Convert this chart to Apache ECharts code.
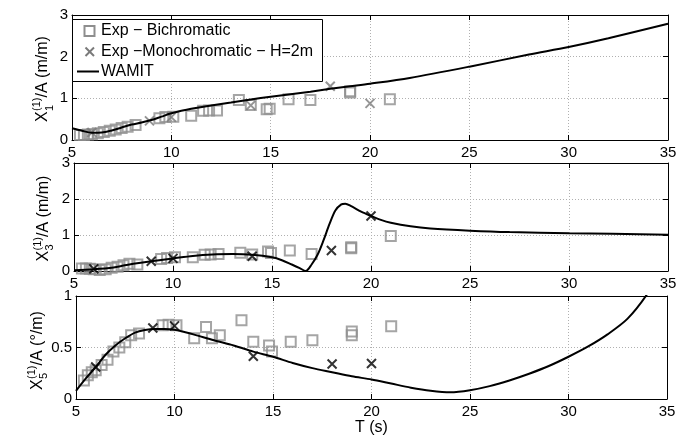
<!DOCTYPE html>
<html>
<head>
<meta charset="utf-8">
<script src="https://cdn.jsdelivr.net/npm/echarts@6/dist/echarts.min.js"></script>
<style>
  html, body { margin: 0; padding: 0; background: #fff; }
  #chart { width: 691px; height: 438px; }
</style>
</head>
<body>
<div id="chart"></div>
<script>
// Wave periods (s) of the bichromatic tests
const tBi = [5.4, 5.6, 5.8, 6.0, 6.3, 6.6, 6.9, 7.2, 7.5, 7.8, 8.2, 9.4, 9.7, 10.1, 11.0, 11.6, 11.9, 12.3, 13.4, 14.0, 14.8, 14.95, 15.9, 17.0, 19.0, 19.0, 21.0];
// Wave periods (s) of the monochromatic tests, H = 2 m
const tMono = [6, 8.9, 10, 14, 18, 20];

// Surge RAO X1/A (m/m)
const x1Bi = [0.12, 0.12, 0.13, 0.14, 0.16, 0.19, 0.22, 0.25, 0.29, 0.32, 0.36, 0.52, 0.55, 0.56, 0.58, 0.70, 0.71, 0.71, 0.96, 0.84, 0.74, 0.75, 0.98, 0.96, 1.14, 1.17, 0.98];
const x1Mono = [0.18, 0.46, 0.55, 0.83, 1.29, 0.88];
const tW1 = [5, 5.5, 6, 6.5, 7, 7.5, 8, 8.5, 9, 9.5, 10, 10.5, 11, 12, 13, 14, 15, 16, 17, 18, 19, 20, 22, 25, 28, 30, 32, 35];
const x1W = [0.28, 0.22, 0.175, 0.18, 0.23, 0.30, 0.37, 0.42, 0.48, 0.56, 0.64, 0.70, 0.75, 0.83, 0.90, 0.97, 1.04, 1.10, 1.16, 1.23, 1.29, 1.35, 1.49, 1.76, 2.05, 2.23, 2.44, 2.79];

// Heave RAO X3/A (m/m)
const x3Bi = [0.07, 0.07, 0.06, 0.05, 0.03, 0.05, 0.09, 0.12, 0.16, 0.20, 0.18, 0.33, 0.36, 0.38, 0.38, 0.45, 0.46, 0.47, 0.51, 0.46, 0.54, 0.50, 0.57, 0.47, 0.63, 0.66, 0.97];
const x3Mono = [0.06, 0.27, 0.35, 0.41, 0.57, 1.53];
const tW3 = [5, 6, 7, 7.5, 8, 9, 10, 11, 12, 13, 14, 15, 15.5, 16, 16.4, 16.7, 17, 17.3, 17.6, 17.9, 18.2, 18.5, 18.7, 19, 19.5, 20, 20.5, 21, 22, 23, 25, 27, 30, 35];
const x3W = [0.02, 0.05, 0.10, 0.15, 0.20, 0.28, 0.35, 0.42, 0.46, 0.47, 0.45, 0.38, 0.30, 0.18, 0.08, 0.0, 0.18, 0.45, 0.85, 1.30, 1.68, 1.85, 1.87, 1.80, 1.65, 1.53, 1.42, 1.34, 1.24, 1.18, 1.12, 1.08, 1.05, 1.01];

// Pitch RAO X5/A (deg/m)
const x5Bi = [0.18, 0.23, 0.26, 0.28, 0.33, 0.38, 0.46, 0.50, 0.55, 0.62, 0.635, 0.715, 0.72, 0.716, 0.59, 0.70, 0.59, 0.62, 0.765, 0.555, 0.52, 0.46, 0.555, 0.57, 0.62, 0.655, 0.706];
const x5Mono = [0.31, 0.69, 0.71, 0.415, 0.34, 0.345];
const tW5 = [5, 5.5, 6, 6.5, 7, 7.5, 8, 8.5, 9, 9.5, 10, 10.5, 11, 12, 13, 14, 15, 16, 17, 18, 19, 20, 21, 22, 23, 24, 25, 26, 27, 28, 29, 30, 31, 32, 33, 34, 35];
const x5W = [0.08, 0.20, 0.31, 0.43, 0.52, 0.59, 0.645, 0.67, 0.68, 0.68, 0.672, 0.65, 0.625, 0.57, 0.52, 0.46, 0.41, 0.35, 0.30, 0.26, 0.22, 0.19, 0.15, 0.11, 0.08, 0.065, 0.085, 0.125, 0.18, 0.245, 0.32, 0.41, 0.51, 0.63, 0.78, 1.02, 1.34];

// Axis ranges and tick spacing
const xRange = [5, 35], xStep = 5;
const yRanges = [[0, 3, 1], [0, 3, 1], [0, 1, 0.5]];

const pairs = (xs, ys) => xs.map((x, i) => [x, ys[i]]);

const FONT = 'Liberation Sans';
const grids = [
  { left: 72, top: 15, width: 596, height: 125 },
  { left: 74, top: 163, width: 594, height: 108 },
  { left: 76, top: 296, width: 591, height: 103 }
];

const xAxes = [], yAxes = [];
grids.forEach((g, i) => {
  const common = {
    type: 'value', gridIndex: i, min: xRange[0], max: xRange[1], interval: xStep,
    axisLine: { show: true, onZero: false, lineStyle: { color: '#000', width: 1 } },
    axisTick: { show: true, inside: true, length: 5, lineStyle: { color: '#000' } }
  };
  xAxes.push(Object.assign({}, common, {
    position: 'bottom',
    axisLabel: { show: true, margin: 5, color: '#000', fontSize: 15, fontFamily: FONT, showMinLabel: true, showMaxLabel: true },
    splitLine: { show: true, lineStyle: { color: '#b0b0b0', type: [1, 2], width: 1 } },
    name: i === 2 ? 'T (s)' : '',
    nameLocation: 'middle', nameGap: 20,
    nameTextStyle: { color: '#000', fontSize: 16, fontFamily: FONT }
  }));
  xAxes.push(Object.assign({}, common, {
    position: 'top', axisLabel: { show: false }, splitLine: { show: false }
  }));
  const yr = yRanges[i];
  const ycommon = {
    type: 'value', gridIndex: i, min: yr[0], max: yr[1], interval: yr[2],
    axisLine: { show: true, onZero: false, lineStyle: { color: '#000', width: 1 } },
    axisTick: { show: true, inside: true, length: 5, lineStyle: { color: '#000' } }
  };
  yAxes.push(Object.assign({}, ycommon, {
    position: 'left',
    axisLabel: { show: true, margin: 4, color: '#000', fontSize: 15, fontFamily: FONT },
    splitLine: { show: true, lineStyle: { color: '#b0b0b0', type: [1, 2], width: 1 } }
  }));
  yAxes.push(Object.assign({}, ycommon, {
    position: 'right', axisLabel: { show: false }, splitLine: { show: false }
  }));
});

const squareStyle = { color: 'rgba(0,0,0,0)', borderColor: '#8e8e8e', borderWidth: 2 };
const crossPath = 'path://M0,0L10,10M10,0L0,10';

function panelSeries(i, bi, mono, tw, w, crossColor) {
  return [
    {
      name: 'Exp − Bichromatic', type: 'scatter', xAxisIndex: i * 2, yAxisIndex: i * 2,
      data: pairs(tBi, bi), symbol: 'rect', symbolSize: 10, itemStyle: squareStyle,
      emphasis: { disabled: true }, z: 2
    },
    {
      name: 'Exp −Monochromatic − H=2m', type: 'scatter', xAxisIndex: i * 2, yAxisIndex: i * 2,
      data: pairs(tMono, mono), symbol: crossPath, symbolSize: 9,
      itemStyle: { color: 'rgba(0,0,0,0)', borderColor: crossColor, borderWidth: 2 },
      emphasis: { disabled: true }, z: 3
    },
    {
      name: 'WAMIT', type: 'line', xAxisIndex: i * 2, yAxisIndex: i * 2,
      data: pairs(tw, w), symbol: 'none', smooth: 0.3, clip: true,
      lineStyle: { color: '#000', width: 2 }, emphasis: { disabled: true }, z: 4
    }
  ];
}

const series = [].concat(
  panelSeries(0, x1Bi, x1Mono, tW1, x1W, '#7a7a7a'),
  panelSeries(1, x3Bi, x3Mono, tW3, x3W, '#000'),
  panelSeries(2, x5Bi, x5Mono, tW5, x5W, '#000')
);

// Vertical axis title X_k^(1)/A (unit), written bottom-to-top
function txt(text, x, y, size) {
  return {
    type: 'text',
    style: {
      text: text, x: x, y: y, fill: '#000', fontSize: size, fontFamily: FONT,
      textAlign: 'left', align: 'left', textVerticalAlign: 'middle', verticalAlign: 'middle'
    }
  };
}
function yTitle(x, y, sub, tail) {
  return {
    type: 'group', x: x, y: y, rotation: Math.PI / 2, z: 100,
    children: [
      txt('X', 0, 0, 16),
      txt('(1)', 11, -6, 11),
      txt(sub, 11, 6.5, 11),
      txt(tail, 24.5, 0, 16)
    ]
  };
}

const legendItems = [
  { type: 'rect', shape: { x: 72.5, y: 19.5, width: 250, height: 62 }, style: { fill: '#fff', stroke: '#000', lineWidth: 1 }, z: 90 },
  { type: 'rect', shape: { x: 84.5, y: 26, width: 10, height: 10 }, style: { fill: 'none', stroke: '#8e8e8e', lineWidth: 2 }, z: 91 },
  { type: 'line', shape: { x1: 85.5, y1: 47.5, x2: 94, y2: 56 }, style: { stroke: '#7a7a7a', lineWidth: 2 }, z: 91 },
  { type: 'line', shape: { x1: 85.5, y1: 56, x2: 94, y2: 47.5 }, style: { stroke: '#7a7a7a', lineWidth: 2 }, z: 91 },
  { type: 'line', shape: { x1: 77, y1: 71.5, x2: 99, y2: 71.5 }, style: { stroke: '#000', lineWidth: 2 }, z: 91 },
  Object.assign(txt('Exp − Bichromatic', 101, 31, 16), { z: 92 }),
  Object.assign(txt('Exp −Monochromatic − H=2m', 101, 52, 16), { z: 92 }),
  Object.assign(txt('WAMIT', 101, 71.5, 16), { z: 92 })
];

const chart = echarts.init(document.getElementById('chart'), null, { renderer: 'canvas' });
chart.setOption({
  animation: false,
  backgroundColor: '#fff',
  grid: grids.map(g => Object.assign({ containLabel: false }, g)),
  xAxis: xAxes,
  yAxis: yAxes,
  series: series,
  graphic: [
    yTitle(43, 122, '1', '/A (m/m)'),
    yTitle(43.5, 261.5, '3', '/A (m/m)'),
    yTitle(37.5, 390, '5', '/A (°/m)')
  ].concat(legendItems)
});
</script>
</body>
</html>
